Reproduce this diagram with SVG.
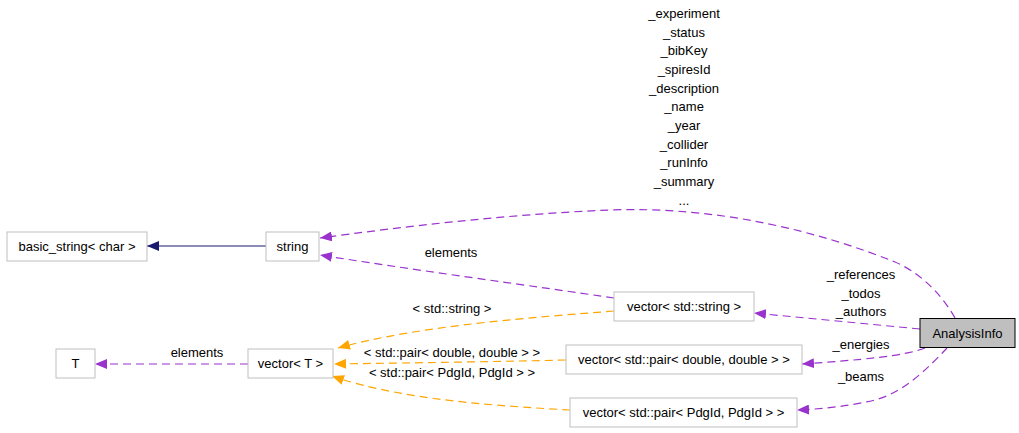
<svg xmlns="http://www.w3.org/2000/svg" width="1019" height="433" viewBox="0 0 1019 433">
<style>
text{font-family:"Liberation Sans",Arial,sans-serif;font-size:13px;fill:#000;text-anchor:middle}
.box{fill:#fff;stroke:#bfbfbf;stroke-width:1}
.main{fill:#bfbfbf;stroke:#000;stroke-width:1}
.p{fill:none;stroke:#9a32cd;stroke-width:1.2;stroke-dasharray:8,5}
.o{fill:none;stroke:#ffa500;stroke-width:1.2;stroke-dasharray:8,5}
.n{fill:none;stroke:#191970;stroke-width:1.2}
</style>
<defs>
<marker id="ap" markerUnits="userSpaceOnUse" markerWidth="12" markerHeight="10" refX="12" refY="5" orient="auto"><path d="M0,0 L12,5 L0,10 z" fill="#9a32cd"/></marker>
<marker id="ao" markerUnits="userSpaceOnUse" markerWidth="12" markerHeight="10" refX="12" refY="5" orient="auto"><path d="M0,0 L12,5 L0,10 z" fill="#ffa500"/></marker>
<marker id="an" markerUnits="userSpaceOnUse" markerWidth="12" markerHeight="10" refX="12" refY="5" orient="auto"><path d="M0,0 L12,5 L0,10 z" fill="#191970"/></marker>
</defs>
<g id="edges">
<path class="n" d="M266,246 L147,246" marker-end="url(#an)"/>
<path class="p" d="M955,318 C945,300 925,275 895,262 C820,232 720,206 610,210 C510,214 400,227 320,238" marker-end="url(#ap)"/>
<path class="p" d="M614,298 C540,287 400,268 320,255" marker-end="url(#ap)"/>
<path class="p" d="M920,329 L754,313" marker-end="url(#ap)"/>
<path class="p" d="M925,348 C905,356 860,360 802,364" marker-end="url(#ap)"/>
<path class="p" d="M947,348 C930,366 905,392 875,400 C850,406 822,409 797,410" marker-end="url(#ap)"/>
<path class="p" d="M248,364 L95,364" marker-end="url(#ap)"/>
<path class="o" d="M614,311 C540,317 420,325 338,348" marker-end="url(#ao)"/>
<path class="o" d="M566,360 C480,362 400,363 334,364" marker-end="url(#ao)"/>
<path class="o" d="M570,410 C500,406 400,400 332,376" marker-end="url(#ao)"/>
<text x="684" y="18">_experiment</text>
<text x="684" y="36.7">_status</text>
<text x="684" y="55.3">_bibKey</text>
<text x="684" y="74">_spiresId</text>
<text x="684" y="92.7">_description</text>
<text x="684" y="111.3">_name</text>
<text x="684" y="130">_year</text>
<text x="684" y="148.7">_collider</text>
<text x="684" y="167.3">_runInfo</text>
<text x="684" y="186">_summary</text>
<text x="684" y="204.7">...</text>
<text x="451" y="257">elements</text>
<text x="861" y="279">_references</text>
<text x="861" y="297.5">_todos</text>
<text x="861" y="316">_authors</text>
<text x="861" y="349">_energies</text>
<text x="861" y="381">_beams</text>
<text x="452" y="313">&lt; std::string &gt;</text>
<text x="452" y="357">&lt; std::pair&lt; double, double &gt; &gt;</text>
<text x="452" y="377">&lt; std::pair&lt; PdgId, PdgId &gt; &gt;</text>
<text x="197" y="357">elements</text>
</g>
<g id="node-AnalysisInfo"><rect class="main" x="920" y="318.5" width="95" height="29"/><text x="967.5" y="337.5">AnalysisInfo</text></g>
<g id="node-string"><rect class="box" x="266" y="232" width="53" height="29"/><text x="292.5" y="251">string</text></g>
<g id="node-basic_string"><rect class="box" x="7" y="232" width="140" height="29"/><text x="77" y="251">basic_string&lt; char &gt;</text></g>
<g id="node-vector_string"><rect class="box" x="614" y="292" width="140" height="29"/><text x="684" y="311">vector&lt; std::string &gt;</text></g>
<g id="node-vector_T"><rect class="box" x="248" y="349" width="85" height="29"/><text x="290.5" y="368">vector&lt; T &gt;</text></g>
<g id="node-T"><rect class="box" x="56" y="349" width="39" height="29"/><text x="75.5" y="368">T</text></g>
<g id="node-vector_pair_double"><rect class="box" x="566" y="345" width="236" height="29"/><text x="684" y="364">vector&lt; std::pair&lt; double, double &gt; &gt;</text></g>
<g id="node-vector_pair_pdgid"><rect class="box" x="570" y="398" width="227" height="29"/><text x="683.5" y="417">vector&lt; std::pair&lt; PdgId, PdgId &gt; &gt;</text></g>
</svg>
